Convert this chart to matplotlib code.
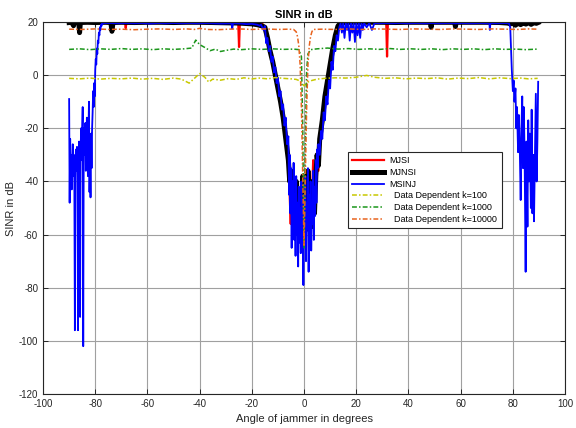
import numpy as np
import matplotlib.pyplot as plt

plt.rcParams['font.family'] = ['Liberation Sans', 'DejaVu Sans']
plt.rcParams['axes.unicode_minus'] = False

# SINR (dB) versus jammer angle (deg), one list of (angle, sinr) per method
mjsi = [(-90, 19.6), (-80, 19.6), (-69, 19.6), (-68.5, 19.6), (-68.3, 17.7), (-68.1, 19.6),
        (-60, 19.6), (-50, 19.6), (-40, 19.6), (-30, 19.6), (-25.2, 19.6), (-24.9, 10.6),
        (-24.6, 19.6), (-20, 19.4), (-16, 19.3), (-15, 18), (-14, 13.5), (-12, 4), (-10, -5),
        (-8, -15), (-7, -20), (-6.5, -26), (-6, -32), (-5.5, -45), (-5.1, -56), (-4.7, -40),
        (-4, -50), (-3, -44), (-2, -58), (-1.2, -48), (-0.7, -38), (0, -50), (1, -45),
        (2, -60), (3, -48), (3.5, -32), (3.8, -51), (4.5, -40), (5, -29), (5.5, -36),
        (6.4, -22), (7, -16), (8, -9), (10, 3), (12, 14), (13.5, 19), (14, 19.6), (20, 19.6),
        (31.5, 19.6), (31.8, 7), (32.1, 19.6), (40, 19.6), (50, 19.6), (60, 19.6),
        (70, 19.6), (80, 19.6), (90, 19.6)]

mjnsi = [(-90, 19.8), (-89, 19.9), (-88.3, 18.6), (-88, 19.8), (-86.3, 19.8), (-86, 16),
         (-85.7, 19.8), (-83, 19.9), (-80, 19.8), (-76, 19.9), (-74, 19.8), (-73.6, 16.5),
         (-73.2, 19.8), (-70, 19.9), (-65, 19.8), (-60, 19.9), (-55, 19.9), (-50, 19.8),
         (-45, 19.9), (-40, 19.9), (-35, 19.8), (-30, 19.7), (-25, 19.6), (-20, 19.3),
         (-18, 19), (-16, 18.5), (-15, 18), (-14, 14), (-13, 9), (-12, 5), (-11, 0),
         (-10, -5), (-9, -10), (-8, -16), (-7, -24), (-6, -32), (-5.5, -40), (-5, -36),
         (-4.5, -48), (-4, -42), (-3.5, -55), (-3, -40), (-2.5, -58), (-2, -45), (-1.5, -60),
         (-1, -50), (-0.5, -38), (0, -55), (0.5, -42), (1, -58), (1.5, -36), (2, -50),
         (2.5, -40), (3, -57), (3.5, -45), (4, -52), (4.5, -38), (5, -30), (5.5, -34),
         (6, -24), (7, -17), (8, -8), (9, -2), (10, 4), (11, 10), (12, 15), (13, 18.5),
         (14, 19.6), (16, 19.8), (18, 19.9), (25, 19.9), (30, 19.9), (35, 19.8), (40, 19.9),
         (48.4, 19.9), (48.7, 18), (49, 19.9), (55, 19.9), (57.7, 19.9), (58, 18.3),
         (58.3, 19.9), (65, 19.9), (70, 19.9), (75, 19.8), (78, 19.6), (79, 19.3),
         (80, 19.5), (81, 18.8), (82, 19.6), (83, 19), (84, 19.8), (85, 19.2), (86, 19.8),
         (87, 19.1), (88, 19.8), (89, 19.5), (89.7, 19.8)]

msinj = [(-90.0, -9), (-89.8, -48), (-89.6, -24), (-89.4, -40), (-89.2, -30), (-89.0, -43),
         (-88.8, -33), (-88.6, -26), (-88.4, -38), (-88.2, -30), (-88.0, -40), (-87.8, -96),
         (-87.6, -35), (-87.4, -28), (-87.2, -36), (-87.0, -27), (-86.8, -38), (-86.6, -96),
         (-86.4, -30), (-86.2, -25), (-86.0, -33), (-85.8, -91), (-85.6, -28), (-85.4, -20),
         (-85.2, -32), (-85.0, -22), (-84.8, -12), (-84.6, -102), (-84.4, -25), (-84.2, -20),
         (-84.0, -30), (-83.8, -18), (-83.6, -36), (-83.4, -24), (-83.2, -16), (-83.0, -28),
         (-82.8, -38), (-82.6, -22), (-82.4, -10), (-82.2, -44), (-82.0, -30), (-81.8, -46),
         (-81.6, -22), (-81.4, -35), (-81.2, -20), (-81.0, -14), (-80.8, -6), (-80.6, -12),
         (-80.4, -3), (-80.2, -8), (-80.0, 2), (-79.8, 6), (-79.6, 4), (-79.4, 10),
         (-79.2, 8), (-79.0, 13), (-78.8, 12), (-78.6, 16), (-78.4, 15), (-78.2, 18),
         (-78.0, 17), (-77.8, 19), (-77.6, 18.5), (-77.4, 19.5), (-77.2, 19.2), (-77.0, 19.6),
         (-74, 19.6), (-71, 19.5), (-68, 19.6), (-65, 19.5), (-62, 19.6), (-59, 19.4),
         (-56, 19.6), (-53, 19.5), (-50, 19.6), (-47, 19.5), (-44, 19.6), (-41, 19.5),
         (-38, 19.6), (-35, 19.5), (-32, 19.4), (-29, 19.5), (-27.8, 19.5), (-27.5, 17.5),
         (-27.2, 19.5), (-24, 19.4), (-22, 19.2), (-20, 19.3), (-18, 19.0), (-17, 18.6),
         (-16.5, 19), (-15.5, 17), (-15, 18.5), (-14.5, 12), (-14, 14), (-13.5, 9), (-13, 11),
         (-12.5, 5), (-12, 7), (-11.5, 1), (-11, 3), (-10.5, -3), (-10, -1), (-9.5, -8),
         (-9, -6), (-8.5, -13), (-8, -11), (-7.5, -19), (-7, -16), (-6.5, -26), (-6, -23),
         (-5.75, -45), (-5.5, -30), (-5.25, -52), (-5, -35), (-4.75, -65), (-4.5, -40),
         (-4.25, -58), (-4, -33), (-3.75, -62), (-3.5, -45), (-3.25, -68), (-3, -38),
         (-2.75, -60), (-2.5, -48), (-2.25, -72), (-2, -42), (-1.75, -63), (-1.5, -50),
         (-1.25, -67), (-1, -40), (-0.75, -58), (-0.5, -47), (-0.25, -79), (0, -45),
         (0.25, -62), (0.5, -38), (0.75, -70), (1, -48), (1.25, -58), (1.5, -35), (1.75, -74),
         (2, -45), (2.25, -60), (2.5, -40), (2.75, -66), (3, -50), (3.25, -56), (3.5, -36),
         (3.75, -62), (4, -42), (4.25, -53), (4.5, -32), (4.75, -48), (5, -28), (5.25, -35),
         (5.5, -26), (6, -30), (6.5, -21), (7, -24), (7.5, -14), (8, -17), (8.5, -8),
         (9, -11), (9.5, -2), (10, -5), (10.5, 5), (11, 2), (11.5, 11), (12, 9), (12.5, 15),
         (13, 13), (13.5, 18), (14, 19.5), (14.5, 16), (15, 19.5), (15.5, 14), (16, 19.6),
         (16.5, 17), (17, 19.5), (17.5, 13), (18, 19.6), (18.5, 16), (19, 19.5),
         (19.5, 12.5), (20, 19.6), (20.5, 15), (21, 19.6), (21.5, 14), (22, 19.6),
         (22.5, 17), (23, 19.6), (24, 18), (25, 19.6), (26, 17), (27, 19.6), (29, 19.5),
         (31, 19.6), (34, 19.5), (37, 19.6), (40, 19.5), (43, 19.6), (46, 19.5), (49, 19.6),
         (52, 19.5), (55, 19.6), (58, 19.5), (61, 19.6), (64, 19.5), (67, 19.6), (70, 19.5),
         (71, 19.6), (71.2, 17), (71.4, 19.6), (74, 19.5), (77, 19.6), (78.5, 19.5),
         (79, 18), (79.3, 10), (79.6, 2), (80, -6), (80.3, -2), (80.6, -10), (81, -5),
         (81.3, -20), (81.6, -12), (82, -29), (82.3, -15), (82.6, -25), (83, -47),
         (83.3, -20), (83.6, -8), (83.9, -35), (84.2, -12), (84.5, -30), (84.9, -74),
         (85.2, -25), (85.6, -57), (85.9, -17), (86.2, -40), (86.5, -22), (86.9, -50),
         (87.2, -13), (87.5, -52), (87.8, -30), (88.1, -55), (88.4, -35), (88.8, -7),
         (89.1, -40), (89.4, -25), (89.7, -2.5)]

dd_k100 = [(-90, -1.2), (-86, -1.4), (-82, -1.1), (-78, -1.5), (-74, -1.2), (-70, -1.4),
           (-66, -1.1), (-62, -1.5), (-58, -1.2), (-54, -1.6), (-50, -1.1), (-47, -1.5),
           (-44, -3), (-42, -1.2), (-40, 0.6), (-38, -0.8), (-36.5, -2.6), (-35, -1.5),
           (-32, -1.9), (-29, -1.3), (-26, -1.6), (-23, -1.0), (-20, -1.4), (-17, -1.1),
           (-14, -1.4), (-11, -0.9), (-8, -1.2), (-5, -1.4), (-3, -1.6), (-1.5, -2.2),
           (0, -4), (1.5, -2.6), (3, -2.0), (5, -1.5), (8, -1.2), (12, -1.0), (16, -1.1),
           (20, -0.8), (24, -0.1), (27, -0.8), (31, -1.2), (35, -1.0), (39, -1.4), (43, -1.1),
           (47, -1.3), (51, -1.0), (55, -1.5), (59, -1.1), (63, -1.3), (67, -0.9), (71, -1.4),
           (75, -1.0), (79, -1.3), (83, -1.1), (86, -1.4), (89.5, -1.2)]

dd_k1000 = [(-90, 9.7), (-86, 9.9), (-82, 9.6), (-78, 9.9), (-74, 9.7), (-70, 10.0),
            (-66, 9.7), (-62, 9.9), (-58, 9.6), (-54, 9.9), (-50, 9.7), (-46, 9.9),
            (-43, 10.2), (-41.5, 13.2), (-40, 11.5), (-38, 10.4), (-36, 9.2), (-34, 9.8),
            (-32, 8.9), (-30, 9.3), (-27, 9.8), (-24, 9.6), (-20, 9.9), (-16, 9.7),
            (-12, 9.9), (-8, 9.7), (-4, 9.8), (-2, 9.6), (-1, 7), (-0.5, -20), (0, -65),
            (0.5, -25), (1, 2), (1.5, 8), (2.5, 9.6), (5, 9.9), (9, 10.2), (13, 9.8),
            (17, 10.0), (21, 9.7), (25, 9.9), (29, 9.7), (33, 10.0), (37, 9.7), (41, 9.9),
            (45, 9.7), (49, 9.9), (53, 9.6), (57, 9.9), (61, 9.7), (65, 9.9), (69, 9.6),
            (73, 9.9), (77, 9.7), (81, 9.8), (85, 9.6), (89.5, 9.8)]

dd_k10000 = [(-90, 17.3), (-85, 17.2), (-80, 17.4), (-75, 17.2), (-70, 17.3), (-65, 17.1),
             (-60, 17.3), (-55, 17.4), (-50, 17.2), (-45, 17.4), (-42, 17.2), (-40, 17.6),
             (-37, 17.2), (-33, 17.1), (-29, 17.3), (-25, 17.4), (-20, 17.2), (-15, 17.4),
             (-10, 17.2), (-6, 17.3), (-4, 17.2), (-3, 16.3), (-2.5, 14.5), (-2, 11),
             (-1.5, 4), (-1, -12), (-0.5, -38), (0, -64), (0.5, -38), (1, -12), (1.5, 4),
             (2, 11), (2.5, 14.5), (3, 16.3), (3.5, 17.2), (7, 17.3), (12, 17.2), (17, 17.4),
             (22, 17.2), (27, 17.4), (32, 17.3), (37, 17.2), (42, 17.4), (47, 17.3),
             (52, 17.2), (57, 17.4), (62, 17.3), (67, 17.2), (72, 17.4), (77, 17.3),
             (82, 17.2), (86, 17.4), (89.5, 17.3)]

x_ticks = [-100, -80, -60, -40, -20, 0, 20, 40, 60, 80, 100]
y_ticks = [-120, -100, -80, -60, -40, -20, 0, 20]

text_col = '#262626'
dashdot = (3.2, 1.4, 1.0, 1.4)

fig = plt.figure(figsize=(5.76, 4.28), dpi=100)
ax = fig.add_axes([0.0747, 0.0794, 0.9063, 0.8692])

series = [
    (mjsi, 'MJSI', dict(color='#ff0000', lw=1.6)),
    (mjnsi, 'MJNSI', dict(color='#000000', lw=3.6)),
    (msinj, 'MSINJ', dict(color='#0000ff', lw=1.3)),
    (dd_k100, '  Data Dependent k=100', dict(color='#c8c800', lw=1.1, dashes=dashdot)),
    (dd_k1000, '  Data Dependent k=1000', dict(color='#1a961a', lw=1.1, dashes=dashdot)),
    (dd_k10000, '  Data Dependent k=10000', dict(color='#e8631e', lw=1.1, dashes=dashdot)),
]
for pts, name, style in series:
    a, v = np.array(pts).T
    ax.plot(a, v, label=name, **style)

ax.set_xlim(-100, 100)
ax.set_ylim(-120, 20)
ax.set_xticks(x_ticks)
ax.set_yticks(y_ticks)
ax.grid(True, color='#a0a0a0', lw=0.8)
ax.set_axisbelow(True)
ax.tick_params(direction='in', length=3.5, width=0.7, top=True, right=True,
               labelsize=7, colors=text_col)
for sp in ax.spines.values():
    sp.set_color(text_col)
    sp.set_linewidth(0.8)

ax.set_title('SINR in dB', fontsize=8, fontweight='bold', color='black', pad=3)
ax.set_xlabel('Angle of jammer in degrees', fontsize=8, color=text_col, labelpad=4)
ax.set_ylabel('SINR in dB', fontsize=8, color=text_col, labelpad=2)

leg = ax.legend(loc='upper left', bbox_to_anchor=(0.584, 0.651), fontsize=6.5,
                handlelength=3.5, handletextpad=0.6, labelspacing=0.3, borderpad=0.5,
                borderaxespad=0, fancybox=False, framealpha=1)
leg.get_frame().set_edgecolor(text_col)
leg.get_frame().set_linewidth(0.8)

fig.savefig('out.png', dpi=100)
